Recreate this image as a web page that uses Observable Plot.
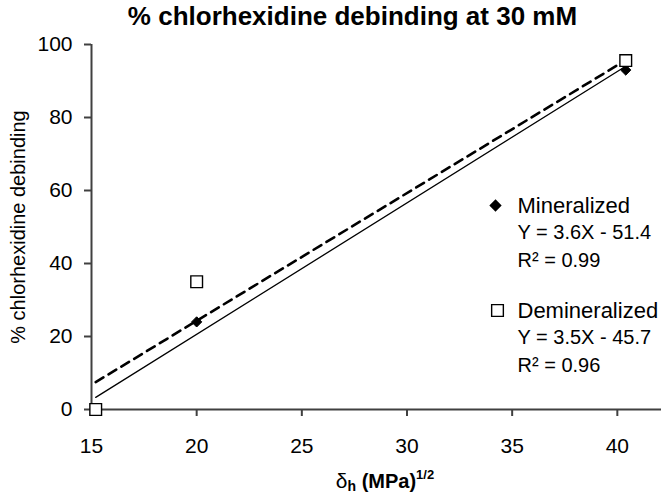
<!DOCTYPE html>
<html>
<head>
<meta charset="utf-8">
<script src="https://cdn.jsdelivr.net/npm/d3@7"></script>
<script src="https://cdn.jsdelivr.net/npm/@observablehq/plot@0.6"></script>
<style>
  html, body { margin: 0; padding: 0; background: #fff; }
  body { width: 665px; height: 497px; overflow: hidden; font-family: "Liberation Sans", Arial, sans-serif; }
  #title { height: 34px; line-height: 32px; text-align: center; font-weight: bold; font-size: 26px; color: #000; padding-left: 40px; box-sizing: border-box; white-space: nowrap; }
  #xlabel { height: 35px; line-height: 38px; text-align: center; font-weight: bold; font-size: 20px; color: #000; padding-left: 105px; box-sizing: border-box; white-space: nowrap; }
  #xlabel .d { font-weight: normal; font-size: 21px; }
  #xlabel sub { font-size: 14px; vertical-align: -3px; line-height: 0; }
  #xlabel sup { font-size: 13px; vertical-align: 9px; line-height: 0; }
  svg { display: block; overflow: visible; }
</style>
</head>
<body>
<div id="title">% chlorhexidine debinding at 30 mM</div>
<div id="chart"></div>
<div id="xlabel"><span class="d">&delta;</span><sub>h</sub> (MPa)<sup>1/2</sup></div>
<script>
// Data
const xValues = [15.2, 20, 40.4];
const mineralized = [0, 24, 93];
const demineralized = [0, 35, 95.6];
const seriesNames = ["Mineralized", "Demineralized"];
const slopes = [3.6, 3.5];
const intercepts = [-51.4, -45.7];
const equations = ["Y = 3.6X - 51.4", "Y = 3.5X - 45.7"];
const rSquared = ["R\u00B2 = 0.99", "R\u00B2 = 0.96"];
const xTicks = [15, 20, 25, 30, 35, 40];
const yTicks = [0, 20, 40, 60, 80, 100];

const minPts = xValues.map((x, i) => ({x, y: mineralized[i]}));
const demPts = xValues.map((x, i) => ({x, y: demineralized[i]}));
const xMin = d3.min(xValues), xMax = d3.max(xValues);
const fitLine = (k) => [xMin, xMax].map(x => ({x, y: slopes[k] * x + intercepts[k]}));

const axisColor = "#404040";
const fs = 21;
const legText = (t, dy, size) => Plot.text([t], {frameAnchor: "top-left", dx: 426, dy, textAnchor: "start", lineAnchor: "middle", fontSize: size, fill: "#000"});

const chart = Plot.plot({
  width: 665,
  height: 428,
  marginTop: 10,
  marginBottom: 53,
  marginLeft: 91,
  marginRight: 4,
  style: {fontFamily: "Liberation Sans, Arial, sans-serif", fontSize: fs + "px", color: "#000", background: "#fff", overflow: "visible"},
  x: {domain: [15, 42.1]},
  y: {domain: [0, 100]},
  marks: [
    Plot.axisX({ticks: xTicks, tickSize: 7, tickPadding: 22, stroke: axisColor, strokeWidth: 2, fontSize: fs, fill: "#000", label: null, tickFormat: d => d}),
    Plot.axisY({ticks: yTicks, tickSize: 7, tickPadding: 12, stroke: axisColor, strokeWidth: 2, fontSize: fs, fill: "#000", label: null, tickFormat: d => d}),
    Plot.ruleY([0], {stroke: axisColor, strokeWidth: 2}),
    Plot.ruleX([15], {stroke: axisColor, strokeWidth: 2}),
    Plot.line(fitLine(0), {x: "x", y: "y", stroke: "#000", strokeWidth: 1.3}),
    Plot.line(fitLine(1), {x: "x", y: "y", stroke: "#000", strokeWidth: 2.6, strokeDasharray: "9,6"}),
    Plot.dot(minPts, {x: "x", y: "y", symbol: "diamond2", r: 4.6, fill: "#000", stroke: "#000", strokeWidth: 1}),
    Plot.dot(demPts, {x: "x", y: "y", symbol: "square", r: 6.6, fill: "#fff", stroke: "#000", strokeWidth: 1.4}),
    // y axis title
    Plot.text(["% chlorhexidine debinding"], {frameAnchor: "left", rotate: -90, dx: -73, textAnchor: "middle", lineAnchor: "middle", fontSize: 20, fill: "#000"}),
    // legend block: Mineralized
    Plot.dot([seriesNames[0]], {frameAnchor: "top-left", dx: 404, dy: 161, symbol: "diamond2", r: 4.6, fill: "#000", stroke: "#000"}),
    legText(seriesNames[0], 161, 22),
    legText(equations[0], 188, 20),
    legText(rSquared[0], 216, 20),
    // legend block: Demineralized
    Plot.dot([seriesNames[1]], {frameAnchor: "top-left", dx: 406, dy: 266, symbol: "square", r: 6.6, fill: "#fff", stroke: "#000", strokeWidth: 1.4}),
    legText(seriesNames[1], 266, 22),
    legText(equations[1], 293, 20),
    legText(rSquared[1], 321, 20)
  ]
});
document.getElementById("chart").appendChild(chart);
</script>
</body>
</html>
